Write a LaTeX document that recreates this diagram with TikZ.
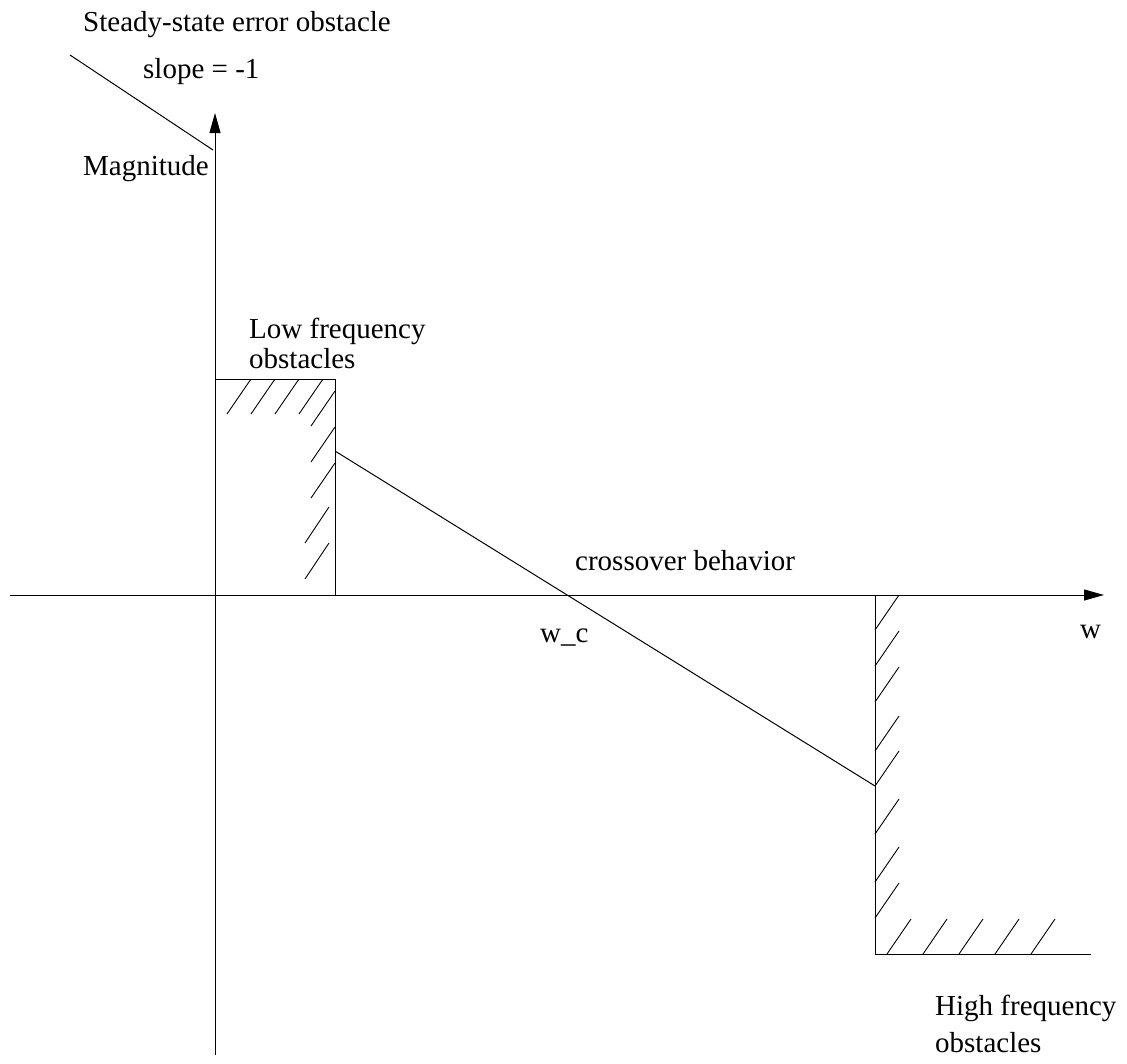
\documentclass[tikz,border=0pt]{standalone}
\usepackage{fontspec}
\setmainfont{Liberation Serif}
\usetikzlibrary{arrows.meta, positioning}
\tikzset{
  axis/.style={line width=1pt, -{Triangle[length=20pt, width=11pt]}},
  edge/.style={line width=1pt},
  hatch/.style={line width=0.9pt},
  lbl/.style={anchor=base west, inner sep=0pt, align=left,
              font=\fontsize{29}{30}\selectfont},
}

\begin{document}
\begin{tikzpicture}[x=1pt, y=-1pt]
  \useasboundingbox (0,0) rectangle (1127,1063);

  % axes
  \coordinate (mbot) at (215,1055);
  \coordinate (mtop) at (215,113);
  \coordinate (wleft) at (10,595);
  \coordinate (wright) at (1104,595);
  \draw[axis] (mbot) -- (mtop);
  \draw[axis] (wleft) -- (wright);

  % steady-state error obstacle
  \coordinate (ss1) at (70,55);
  \coordinate (ss2) at (213,150);
  \draw[edge] (ss1) -- (ss2);

  % low frequency obstacle
  \coordinate (lf1) at (215,379);
  \coordinate (lf2) at (335,379);
  \coordinate (lf3) at (335,595);
  \draw[edge] (lf1) -- (lf2) -- (lf3);
  \foreach \x in {227,251,275,299}
    \draw[hatch] (\x,414) -- ++(24,-35);
  \foreach \y in {426,462,498}
    \draw[hatch] (311,\y) -- ++(24,-35);
  \foreach \y in {543,579}
    \draw[hatch] (305,\y) -- ++(24,-36);

  % high frequency obstacle
  \coordinate (hf1) at (875,595);
  \coordinate (hf2) at (875,954);
  \coordinate (hf3) at (1091,954);
  \draw[edge] (hf1) -- (hf2) -- (hf3);
  \foreach \y in {630,666,702,751,786,834,882,918}
    \draw[hatch] (875,\y) -- ++(24,-35);
  \foreach \x in {887,923,959,995,1031}
    \draw[hatch] (\x,954) -- ++(24,-35);

  % loop gain
  \coordinate (lg1) at (335,451);
  \coordinate (lg2) at (875,786);
  \draw[edge] (lg1) -- (lg2);

  % labels
  \node[lbl] (ssobs) at (83,31) {Steady-state error obstacle};
  \node[lbl] (slope) at (143,78) {slope = -1};
  \node[lbl] (mag) at (83,175) {Magnitude};
  \node[lbl] (lfobs) at (249,368) {Low frequency\\obstacles};
  \node[lbl] (cross) at (575,570) {crossover behavior};
  \node[lbl] (wc) at (540,642) {w\_c};
  \node[lbl] (wlbl) at (1080,638) {w};
  \node[lbl] (hfobs) at (935,1052) {High frequency\\[7pt]obstacles};
\end{tikzpicture}
\end{document}
